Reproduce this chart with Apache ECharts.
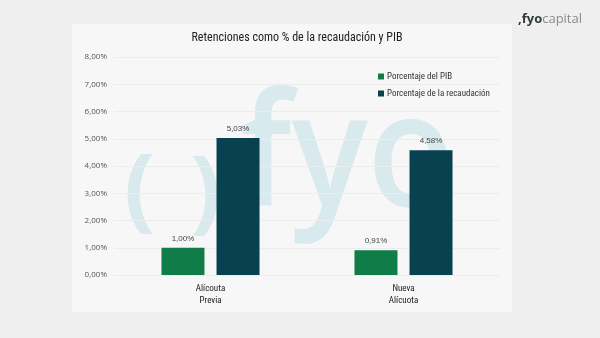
<!DOCTYPE html>
<html><head><meta charset="utf-8">
<script src="https://cdn.jsdelivr.net/npm/echarts@6/dist/echarts.min.js"></script>
<style>html,body{margin:0;padding:0;background:#efefef}#c{width:600px;height:338px}</style>
</head><body><div id="c"></div>
<script>
const categories = ['Alícouta\nPrevia', 'Nueva\nAlícuota'];
const seriesNames = ['Porcentaje del PIB', 'Porcentaje de la recaudación'];
const pibValues = [1.00, 0.91];
const recaudacionValues = [5.03, 4.58];
const yMin = 0, yMax = 8, yStep = 1;
const titleText = 'Retenciones como % de la recaudación y PIB';

const fmt = v => v.toFixed(2).replace('.', ',') + '%';
const narrow = '"Liberation Sans Narrow", "Roboto Condensed", "Noto Sans", sans-serif';
const wm = 'rgba(192,224,231,0.55)';

const chart = echarts.init(document.getElementById('c'), null, {renderer: 'canvas'});
chart.setOption({
  backgroundColor: '#efefef',
  animation: false,
  graphic: [
    {type: 'rect', z: -10, shape: {x: 72, y: 24, width: 440, height: 288}, style: {fill: '#f7f7f7'}},
    {type: 'text', z: -5, left: 124, top: 148, style: {text: '(', font: 'bold 92px "Open Sans", sans-serif', fill: wm}},
    {type: 'text', z: -5, left: 190, top: 150, style: {text: ')', font: 'bold 92px "Open Sans", sans-serif', fill: wm}},
    {type: 'text', z: -5, left: 240, top: 82, scaleX: 0.9, style: {text: 'fyo', font: '600 158px "Open Sans", sans-serif', fill: wm}},
    {type: 'text', right: 18, top: 13, style: {
      rich: {
        a: {fontSize: 13, fontWeight: 'bold', fill: '#2f3b3d', fontFamily: '"Open Sans", sans-serif'},
        b: {fontSize: 13, fill: '#8a8a8a', fontFamily: '"Open Sans", sans-serif'}
      },
      text: '{a|,fyo}{b|capital}'
    }}
  ],
  title: {
    text: titleText, left: 292, top: 27, textAlign: 'center',
    textStyle: {fontSize: 12, fontWeight: 'normal', color: '#222', fontFamily: narrow}
  },
  legend: {
    data: seriesNames, orient: 'vertical', left: 373, top: 67, itemGap: 8,
    itemWidth: 6, itemHeight: 6, icon: 'rect',
    textStyle: {fontSize: 9, color: '#333', fontFamily: narrow, padding: [0, 0, 0, -2]}
  },
  grid: {left: 114, right: 100, top: 57, bottom: 63},
  xAxis: {
    type: 'category', data: categories,
    axisLine: {show: false}, axisTick: {show: false},
    axisLabel: {fontSize: 9, color: '#222', lineHeight: 12, margin: 8, fontFamily: narrow}
  },
  yAxis: {
    type: 'value', min: yMin, max: yMax, interval: yStep,
    axisLine: {show: false}, axisTick: {show: false},
    splitLine: {lineStyle: {color: '#ececec', width: 1}},
    axisLabel: {fontSize: 8, color: '#555', margin: 7, formatter: v => fmt(v), fontFamily: '"Open Sans", sans-serif'}
  },
  series: [
    {name: seriesNames[0], type: 'bar', data: pibValues, barWidth: 43, barGap: '28%',
     itemStyle: {color: '#107c48'},
     label: {show: true, position: 'top', distance: 5, fontSize: 8, color: '#444', formatter: p => fmt(p.value)}},
    {name: seriesNames[1], type: 'bar', data: recaudacionValues, barWidth: 43, barGap: '28%',
     itemStyle: {color: '#08414f'},
     label: {show: true, position: 'top', distance: 5, fontSize: 8, color: '#444', formatter: p => fmt(p.value)}}
  ]
});
</script></body></html>
